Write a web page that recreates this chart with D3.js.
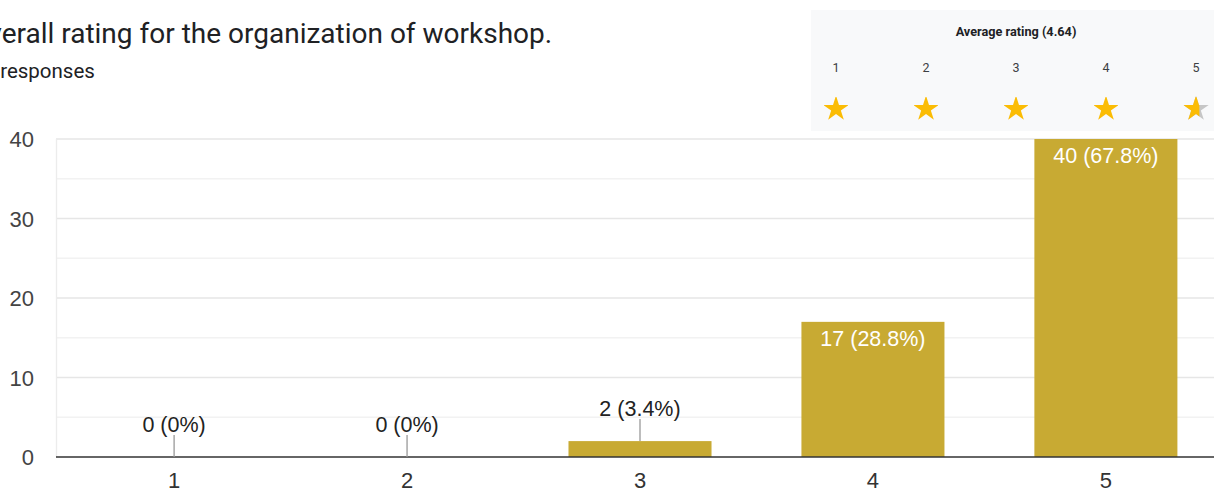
<!DOCTYPE html>
<html><head><meta charset="utf-8">
<script src="https://cdn.jsdelivr.net/npm/d3@7"></script>
<style>body{margin:0;background:#fff;overflow:hidden}</style>
</head><body>
<svg id="c" width="1214" height="489"></svg>
<script>
const categories = ["1","2","3","4","5"];
const counts = [0, 0, 2, 17, 40];
const percents = ["0%","0%","3.4%","28.8%","67.8%"];
const yTicks = [0, 10, 20, 30, 40];
const titleText = "Overall rating for the organization of workshop.";
const subtitleText = "59 responses";
const averageRating = 4.64;
const starLabels = ["1","2","3","4","5"];

const svg = d3.select("#c");
const barColor = "#c8aa33";
const labelFont = "Liberation Sans, Arial";
const labelSize = 21.5;

const x = d3.scaleBand().domain(categories).range([56, 1224]).paddingInner(0.386).paddingOuter(0.2);
const y = d3.scaleLinear().domain([0, 40]).range([457, 139]);

// title
svg.append("text").attr("x", -31).attr("y", 43).attr("font-family", "Roboto").attr("font-size", 28).attr("fill", "#202124").text(titleText);
svg.append("text").attr("x", -28).attr("y", 78).attr("font-family", "Roboto").attr("font-size", 20.5).attr("fill", "#202124").text(subtitleText);

// gridlines
const gridVals = d3.range(0, 41, 5);
svg.append("g").selectAll("line").data(gridVals.filter(d => d > 0)).join("line")
  .attr("x1", 56).attr("x2", 1214)
  .attr("y1", d => y(d)).attr("y2", d => y(d))
  .attr("stroke", d => d % 10 === 0 ? "#e6e6e6" : "#f2f2f2").attr("stroke-width", 1.3);
svg.append("line").attr("x1", 56.5).attr("x2", 56.5).attr("y1", y(40)).attr("y2", y(0)).attr("stroke", "#ececec").attr("stroke-width", 1.3);

// y axis labels
const yAxis = d3.axisLeft(y).tickValues(yTicks).tickSize(0).tickPadding(22);
const gy = svg.append("g").attr("transform", "translate(56,0)").call(yAxis);
gy.select(".domain").remove();
gy.selectAll("text").attr("font-family", labelFont).attr("font-size", 22).attr("fill", "#444").attr("dy", "0.36em");

// bars
svg.append("g").selectAll("rect").data(counts).join("rect")
  .attr("x", (d, i) => x(categories[i]))
  .attr("width", x.bandwidth())
  .attr("y", d => y(d))
  .attr("height", d => y(0) - y(d))
  .attr("fill", barColor);

// x axis
const xAxis = d3.axisBottom(x).tickSize(0).tickPadding(31);
const gx = svg.append("g").attr("transform", "translate(0,457)").call(xAxis);
gx.select(".domain").remove();
gx.selectAll("text").attr("font-family", labelFont).attr("font-size", 22).attr("fill", "#333").attr("dy", null);
svg.append("line").attr("x1", 56).attr("x2", 1214).attr("y1", 457).attr("y2", 457).attr("stroke", "#333").attr("stroke-width", 1.5);

// data labels
counts.forEach((d, i) => {
  const cx = x(categories[i]) + x.bandwidth() / 2;
  const label = d + " (" + percents[i] + ")";
  const inside = y(0) - y(d) > 40;
  if (inside) {
    svg.append("text").attr("x", cx).attr("y", y(d) + 24).attr("text-anchor", "middle")
      .attr("font-family", labelFont).attr("font-size", labelSize).attr("fill", "#fff").text(label);
  } else {
    svg.append("line").attr("x1", cx).attr("x2", cx).attr("y1", y(d) - 22).attr("y2", y(d)).attr("stroke", "#999").attr("stroke-width", 1.3);
    svg.append("text").attr("x", cx).attr("y", y(d) - 25).attr("text-anchor", "middle")
      .attr("font-family", labelFont).attr("font-size", labelSize).attr("fill", "#222").text(label);
  }
});

// rating box
const box = svg.append("g");
box.append("rect").attr("x", 811).attr("y", 10).attr("width", 420).attr("height", 121).attr("fill", "#f8f9fa");
box.append("text").attr("x", 1016).attr("y", 36).attr("text-anchor", "middle").attr("font-family", "Roboto").attr("font-weight", "bold").attr("font-size", 12.7).attr("fill", "#202124").text("Average rating (" + averageRating.toFixed(2) + ")");
const sx = d3.scalePoint().domain(starLabels).range([836, 1196]);
box.selectAll("text.n").data(starLabels).join("text").attr("class", "n")
  .attr("x", d => sx(d)).attr("y", 72).attr("text-anchor", "middle").attr("font-family", "Roboto").attr("font-size", 12.5).attr("fill", "#3c4043").text(d => d);
const starPath = d3.symbol().type(d3.symbolStar).size(200)();
const defs = svg.append("defs");
starLabels.forEach((s, i) => {
  const cx = sx(s), cy = 109;
  const frac = Math.max(0, Math.min(1, averageRating - i));
  const r = 12;
  const g = box.append("g").attr("transform", `translate(${cx},${cy})`);
  if (frac < 1) {
    g.append("path").attr("d", starPath).attr("fill", "#c6c6c6");
  }
  if (frac > 0) {
    const id = "clip" + i;
    defs.append("clipPath").attr("id", id).append("rect").attr("x", -r).attr("y", -r).attr("width", 2 * r * frac).attr("height", 2 * r);
    g.append("path").attr("d", starPath).attr("fill", "#fbbc04").attr("clip-path", `url(#${id})`);
  }
});
</script>
</body></html>
